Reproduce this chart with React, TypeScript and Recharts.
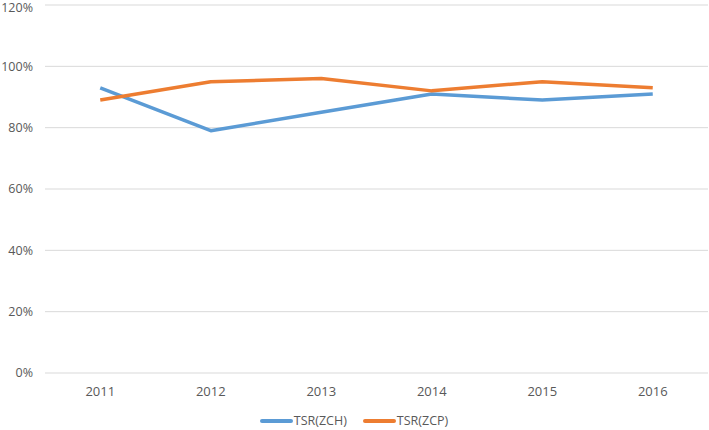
import { LineChart, Line, XAxis, YAxis, CartesianGrid, Legend } from "recharts";

const years = ["2011", "2012", "2013", "2014", "2015", "2016"];
const zch = [93, 79, 85, 91, 89, 91];
const zcp = [89, 95, 96, 92, 95, 93];
const yTicks = [0, 20, 40, 60, 80, 100, 120];

const data = years.map((year, i) => ({ year, zch: zch[i], zcp: zcp[i] }));

const BLUE = "#5B9BD5";
const ORANGE = "#ED7D31";
const FONT = "'Open Sans', sans-serif";

function ChartLegend() {
  const items = [
    { label: "TSR(ZCH)", color: BLUE },
    { label: "TSR(ZCP)", color: ORANGE },
  ];
  return (
    <div style={{ display: "flex", justifyContent: "center", gap: 16, paddingTop: 11, lineHeight: "12px", fontFamily: FONT, fontSize: 12.5, color: "#595959" }}>
      {items.map((it) => (
        <div key={it.label} style={{ display: "flex", alignItems: "center", gap: 1 }}>
          <div style={{ width: 33, height: 4, borderRadius: 2, background: it.color }} />
          <span>{it.label}</span>
        </div>
      ))}
    </div>
  );
}

export default function App() {
  return (
    <div style={{ position: "absolute", left: 0, top: 0, background: "#fff" }}>
      <LineChart width={709} height={430} data={data} margin={{ top: 5, right: 1, left: 0, bottom: 0 }}>
        <CartesianGrid vertical={false} stroke="#D9D9D9" strokeWidth={1} />
        <XAxis
          dataKey="year"
          scale="band"
          axisLine={false}
          tickLine={false}
          tickSize={0}
          tickMargin={14}
          height={31}
          tick={{ fill: "#595959", fontSize: 13, fontFamily: FONT }}
        />
        <YAxis
          domain={[0, 120]}
          ticks={yTicks}
          tickFormatter={(v) => `${v}%`}
          axisLine={false}
          tickLine={false}
          tickSize={0}
          tickMargin={12}
          width={45}
          tick={{ fill: "#595959", fontSize: 12.5, fontFamily: FONT }}
        />
        <Legend verticalAlign="bottom" height={26} content={<ChartLegend />} />
        <Line dataKey="zch" stroke={BLUE} strokeWidth={3.5} dot={false} isAnimationActive={false} strokeLinejoin="round" />
        <Line dataKey="zcp" stroke={ORANGE} strokeWidth={3.5} dot={false} isAnimationActive={false} strokeLinejoin="round" />
      </LineChart>
    </div>
  );
}
